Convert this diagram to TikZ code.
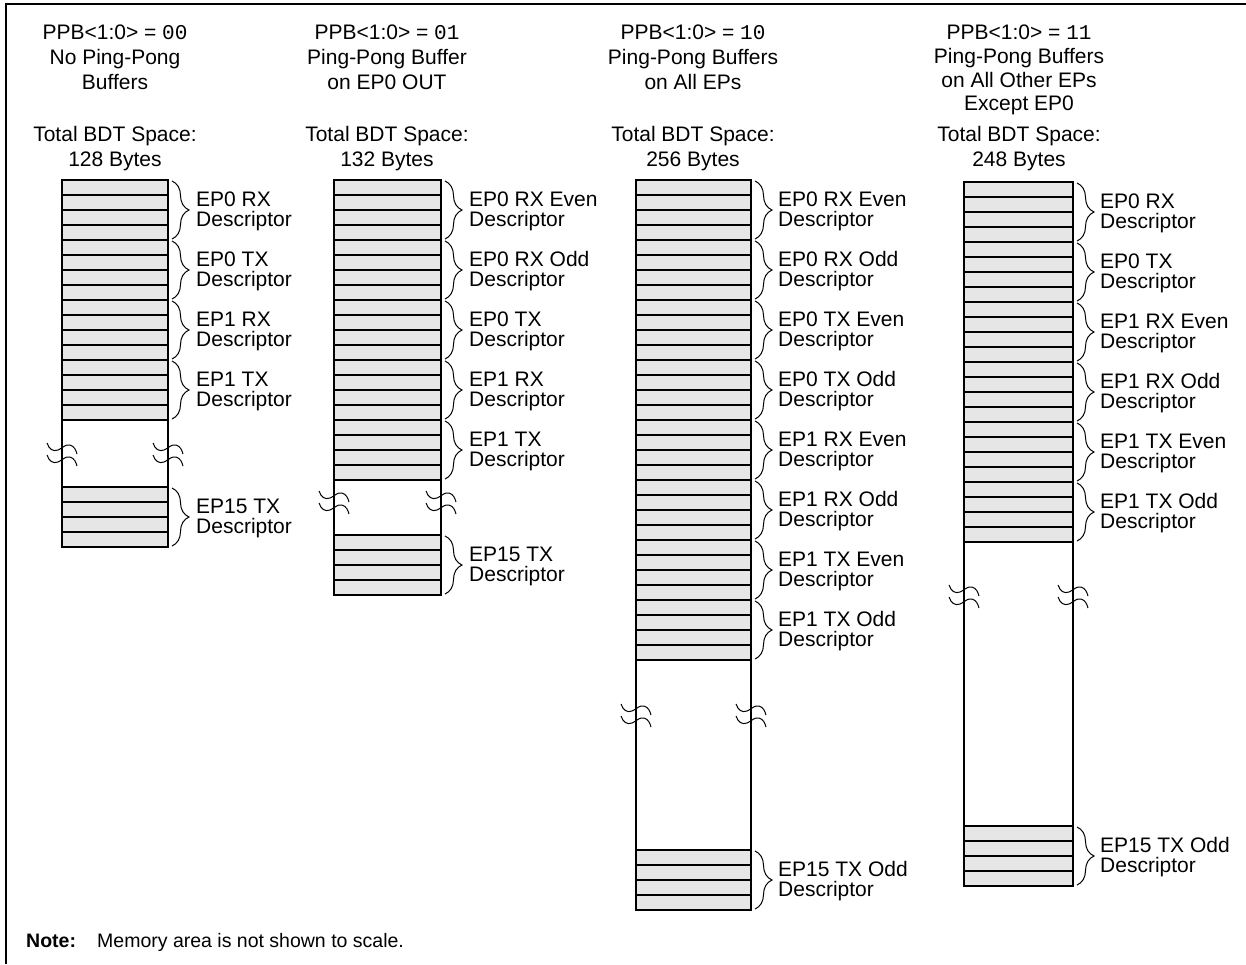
\documentclass[tikz,border=0pt]{standalone}
\usepackage{fontspec}
\setmainfont{Liberation Sans}
\newfontfamily\bdtmono{Liberation Mono}
\usetikzlibrary{decorations.pathreplacing}
\definecolor{cellgray}{RGB}{230,230,230}
\tikzset{
  cellrow/.style={draw=black, line width=1.8pt, fill=cellgray},
  side/.style={line width=1.8pt},
  brc/.style={decorate, decoration={brace, amplitude=17pt}, line width=1pt},
  lbl/.style={anchor=west, inner sep=0pt, align=left, font=\fontsize{21}{20}\selectfont},
  hdr/.style={anchor=north, inner sep=0pt, align=center, font=\fontsize{21}{25}\selectfont},
  hdrb/.style={hdr, font=\fontsize{21}{23.7}\selectfont},
  brk/.style={line width=1pt},
  notestyle/.style={anchor=base west, inner sep=0pt, font=\fontsize{19.5}{23.5}\selectfont},
}
\newcommand\bdtcells[4]{%
  \foreach \i in {1,...,#4} {\draw[cellrow] (#1,{#3+15*(\i-1)}) rectangle (#2,{#3+15*\i});}}
\newcommand\bdtbrace[3]{\draw[brc] ({#1+4},{#2+1}) -- ({#1+4},{#3-1});}
\newcommand\bdttilde[2]{\draw[brk] ({#1-15},{#2-5}) .. controls ({#1-13},{#2+1}) and ({#1-9},{#2+4}) .. ({#1-4},{#2+2}) .. controls ({#1+1},{#2}) and ({#1+3},{#2-4}) .. ({#1+8},{#2-3}) .. controls ({#1+12},{#2-2}) and ({#1+14},{#2+2}) .. ({#1+15},{#2+6});}
\newcommand\bdtbreak[3]{\bdttilde{#1}{#3}\bdttilde{#1}{#3+12}\bdttilde{#2}{#3}\bdttilde{#2}{#3+12}}
\begin{document}
\begin{tikzpicture}[x=1pt,y=-1pt]
\useasboundingbox (0,0) rectangle (1246,964);
\fill[white] (0,0) rectangle (1246,964);
% frame
\draw[line width=2.5pt] (6,964) -- (6,4) -- (1246,4);

% ---------- column 1 ----------
\node[hdr] (h1) at (115,25) {PPB<1:0> = {\bdtmono 00}\\No Ping-Pong\\Buffers};
\node[hdr] (t1) at (115,126) {Total BDT Space:\\128 Bytes};
\draw[side] (62,180) -- (62,547);
\draw[side] (168,180) -- (168,547);
\bdtcells{62}{168}{180}{16}
\bdtcells{62}{168}{487}{4}
\bdtbreak{62}{168}{448}
\foreach \t [count=\i from 0] in {EP0 RX, EP0 TX, EP1 RX, EP1 TX} {
  \bdtbrace{168}{180+60*\i}{240+60*\i}
  \node[lbl] (c1l\i) at (196,{211+60*\i}) {\t\\Descriptor};
}
\bdtbrace{168}{487}{547}
\node[lbl] (c1last) at (196,518) {EP15 TX\\Descriptor};

% ---------- column 2 ----------
\node[hdr] (h2) at (387,25) {PPB<1:0> = {\bdtmono 01}\\Ping-Pong Buffer\\on EP0 OUT};
\node[hdr] (t2) at (387,126) {Total BDT Space:\\132 Bytes};
\draw[side] (334,180) -- (334,595);
\draw[side] (441,180) -- (441,595);
\bdtcells{334}{441}{180}{20}
\bdtcells{334}{441}{535}{4}
\bdtbreak{334}{441}{496}
\foreach \t [count=\i from 0] in {EP0 RX Even, EP0 RX Odd, EP0 TX, EP1 RX, EP1 TX} {
  \bdtbrace{441}{180+60*\i}{240+60*\i}
  \node[lbl] (c2l\i) at (469,{211+60*\i}) {\t\\Descriptor};
}
\bdtbrace{441}{535}{595}
\node[lbl] (c2last) at (469,566) {EP15 TX\\Descriptor};

% ---------- column 3 ----------
\node[hdr] (h3) at (693,25) {PPB<1:0> = {\bdtmono 10}\\Ping-Pong Buffers\\on All EPs};
\node[hdr] (t3) at (693,126) {Total BDT Space:\\256 Bytes};
\draw[side] (636,180) -- (636,910);
\draw[side] (751,180) -- (751,910);
\bdtcells{636}{751}{180}{32}
\bdtcells{636}{751}{850}{4}
\bdtbreak{636}{751}{709}
\foreach \t [count=\i from 0] in {EP0 RX Even, EP0 RX Odd, EP0 TX Even, EP0 TX Odd, EP1 RX Even, EP1 RX Odd, EP1 TX Even, EP1 TX Odd} {
  \bdtbrace{751}{180+60*\i}{240+60*\i}
  \node[lbl] (c3l\i) at (778,{211+60*\i}) {\t\\Descriptor};
}
\bdtbrace{751}{850}{910}
\node[lbl] (c3last) at (778,881) {EP15 TX Odd\\Descriptor};

% ---------- column 4 ----------
\node[hdrb] (h4) at (1019,25) {PPB<1:0> = {\bdtmono 11}\\Ping-Pong Buffers\\on All Other EPs\\Except EP0};
\node[hdr] (t4) at (1019,126) {Total BDT Space:\\248 Bytes};
\draw[side] (964,182) -- (964,886);
\draw[side] (1073,182) -- (1073,886);
\bdtcells{964}{1073}{182}{24}
\bdtcells{964}{1073}{826}{4}
\bdtbreak{964}{1073}{590}
\foreach \t [count=\i from 0] in {EP0 RX, EP0 TX, EP1 RX Even, EP1 RX Odd, EP1 TX Even, EP1 TX Odd} {
  \bdtbrace{1073}{182+60*\i}{242+60*\i}
  \node[lbl] (c4l\i) at (1100,{213+60*\i}) {\t\\Descriptor};
}
\bdtbrace{1073}{826}{886}
\node[lbl] (c4last) at (1100,857) {EP15 TX Odd\\Descriptor};

% ---------- note ----------
\node[notestyle, font=\fontsize{19.5}{23.5}\selectfont\bfseries] (note) at (26,947) {Note:};
\node[notestyle] (notetext) at (97,947) {Memory area is not shown to scale.};
\end{tikzpicture}
\end{document}
